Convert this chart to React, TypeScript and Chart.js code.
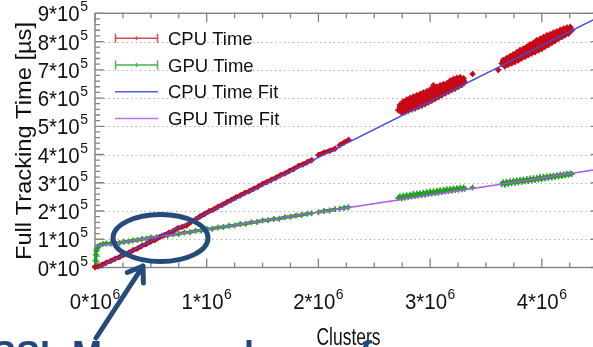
import React, { useEffect, useRef } from "react";
import { Chart, registerables } from "chart.js";
Chart.register(...registerables);

// ---------- data (x: clusters in 10^6, y: full tracking time in 10^5 µs; null = gap) ----------
const cpuX = [
  0.00, 0.03, 0.06, 0.10, 0.14, 0.18, 0.22, 0.26, 0.30, 0.34, 0.38, 0.42, 0.46, 0.50, 0.54, 0.58,
  0.62, 0.66, 0.70, 0.74, 0.78, 0.82, 0.86, 0.90, 0.94, 0.98, 1.02, 1.06, 1.10, 1.14, 1.18, 1.22,
  1.26, 1.30, 1.34, 1.38, 1.42, 1.46, 1.50, 1.54, 1.58, 1.62, 1.66, 1.70, 1.74, 1.78, 1.82, 1.86,
  1.90, 1.94, 1.97, 2.00, 2.05, 2.10, 2.15, 2.17, 2.19, 2.23, 2.27, 2.5,
  2.715, 2.73, 2.745, 2.76, 2.775, 2.79, 2.805, 2.82, 2.835, 2.85, 2.865, 2.88, 2.895, 2.91, 2.925,
  2.94, 2.955, 2.97, 2.985, 3.00, 3.015, 3.03, 3.045, 3.06, 3.075, 3.09, 3.105, 3.12, 3.135, 3.15,
  3.165, 3.18, 3.195, 3.21, 3.225, 3.24, 3.255, 3.27, 3.285, 3.30, 3.31, 3.35,
  3.38, 3.5, 3.61, 3.625,
  3.64, 3.655, 3.67, 3.685, 3.70, 3.715, 3.73, 3.745, 3.76, 3.775, 3.79, 3.805, 3.82, 3.835, 3.85,
  3.865, 3.88, 3.895, 3.91, 3.925, 3.94, 3.955, 3.97, 3.985, 4.00, 4.015, 4.03, 4.045, 4.06, 4.075,
  4.09, 4.105, 4.12, 4.135, 4.15, 4.165, 4.18, 4.195, 4.21, 4.225, 4.24, 4.255, 4.27,
];
const cpuY = [
  0.01, 0.04, 0.09, 0.17, 0.23, 0.31, 0.37, 0.46, 0.52, 0.61, 0.67, 0.77, 0.83, 0.92, 0.98, 1.08,
  1.14, 1.23, 1.29, 1.39, 1.44, 1.49, 1.62, 1.70, 1.81, 1.89, 1.99, 2.05, 2.15, 2.22, 2.31, 2.39,
  2.48, 2.55, 2.64, 2.70, 2.79, 2.86, 2.96, 3.03, 3.11, 3.18, 3.27, 3.33, 3.42, 3.49, 3.59, 3.65,
  3.73, 3.80, null, 3.98, 4.07, 4.13, 4.21, null, 4.33, 4.43, 4.52, null,
  5.57, 5.76, 5.48, 5.88, 5.50, 5.95, 5.55, 6.00, 5.59, 6.05, 5.63, 6.10, 5.68, 6.14, 5.73,
  6.20, 5.78, 6.24, 5.84, 6.30, 5.90, 6.45, 5.97, 6.40, 6.03, 6.45, 6.10, 6.50, 6.16, 6.52,
  6.22, 6.62, 6.28, 6.68, 6.33, 6.72, 6.40, 6.74, 6.46, 6.70, 6.56, null,
  6.85, null, 6.99, null,
  7.22, 7.35, 7.12, 7.42, 7.18, 7.48, 7.22, 7.55, 7.28, 7.62, 7.33, 7.70, 7.40, 7.75, 7.46,
  7.82, 7.52, 7.90, 7.58, 7.96, 7.62, 8.05, 7.68, 8.10, 7.74, 8.16, 7.82, 8.22, 7.88, 8.26,
  7.95, 8.32, 8.02, 8.36, 8.10, 8.42, 8.16, 8.46, 8.22, 8.50, 8.28, 8.52, 8.40,
];

const gpuX = [
  0.000, 0.004, 0.008, 0.012, 0.018, 0.028, 0.045, 0.07, 0.10, 0.14, 0.18, 0.22, 0.26, 0.30, 0.34,
  0.38, 0.42, 0.46, 0.50, 0.55, 0.60, 0.65, 0.70, 0.75, 0.80, 0.85, 0.90, 0.95, 1.00, 1.05, 1.10,
  1.15, 1.20, 1.25, 1.30, 1.35, 1.40, 1.45, 1.50, 1.55, 1.60, 1.65, 1.70, 1.75, 1.80, 1.85, 1.90,
  1.94, 1.97, 2.00, 2.05, 2.10, 2.15, 2.17, 2.19, 2.23, 2.27, 2.5,
  2.715, 2.73, 2.745, 2.76, 2.775, 2.79, 2.805, 2.82, 2.835, 2.85, 2.865, 2.88, 2.895, 2.91, 2.925,
  2.94, 2.955, 2.97, 2.985, 3.00, 3.015, 3.03, 3.045, 3.06, 3.075, 3.09, 3.105, 3.12, 3.135, 3.15,
  3.165, 3.18, 3.195, 3.21, 3.225, 3.24, 3.255, 3.27, 3.285, 3.30, 3.31, 3.35,
  3.38, 3.5,
  3.64, 3.655, 3.67, 3.685, 3.70, 3.715, 3.73, 3.745, 3.76, 3.775, 3.79, 3.805, 3.82, 3.835, 3.85,
  3.865, 3.88, 3.895, 3.91, 3.925, 3.94, 3.955, 3.97, 3.985, 4.00, 4.015, 4.03, 4.045, 4.06, 4.075,
  4.09, 4.105, 4.12, 4.135, 4.15, 4.165, 4.18, 4.195, 4.21, 4.225, 4.24, 4.255, 4.27,
];
const gpuY = [
  0.05, 0.25, 0.45, 0.60, 0.68, 0.74, 0.79, 0.83, 0.85, 0.84, 0.88, 0.87, 0.91, 0.92, 0.96,
  0.97, 1.01, 1.02, 1.06, 1.07, 1.12, 1.13, 1.18, 1.19, 1.24, 1.25, 1.30, 1.31, 1.36, 1.37, 1.42,
  1.43, 1.48, 1.49, 1.54, 1.55, 1.60, 1.61, 1.66, 1.67, 1.72, 1.73, 1.78, 1.80, 1.84, 1.86, 1.90,
  1.92, null, 1.96, 2.00, 2.02, 2.06, null, 2.08, 2.11, 2.13, null,
  2.46, 2.52, 2.44, 2.54, 2.47, 2.56, 2.49, 2.58, 2.51, 2.60, 2.53, 2.62, 2.55, 2.63, 2.57,
  2.65, 2.58, 2.67, 2.60, 2.69, 2.62, 2.70, 2.64, 2.72, 2.65, 2.74, 2.67, 2.75, 2.69, 2.77,
  2.71, 2.78, 2.72, 2.80, 2.74, 2.81, 2.75, 2.82, 2.77, 2.83, 2.79, null,
  2.83, null,
  2.95, 3.02, 2.93, 3.04, 2.96, 3.05, 2.98, 3.07, 2.99, 3.09, 3.01, 3.10, 3.03, 3.12, 3.05,
  3.13, 3.06, 3.15, 3.08, 3.16, 3.10, 3.18, 3.11, 3.20, 3.13, 3.21, 3.15, 3.23, 3.17, 3.24,
  3.19, 3.26, 3.20, 3.27, 3.22, 3.29, 3.24, 3.30, 3.26, 3.32, 3.28, 3.33, 3.31,
];

const cpuFitX = [0, 4.521];
const cpuFitY = [-0.06, 8.89];
const gpuFitX = [0, 4.521];
const gpuFitY = [0.742, 3.49];

const seriesLabels = ["CPU Time", "GPU Time", "CPU Time Fit", "GPU Time Fit"];
const xTicks = [0, 1, 2, 3, 4];
const xTickLabels = ["0*10^6", "1*10^6", "2*10^6", "3*10^6", "4*10^6"];
const yTicks = [0, 1, 2, 3, 4, 5, 6, 7, 8, 9];
const yTickLabels = ["0*10^5", "1*10^5", "2*10^5", "3*10^5", "4*10^5", "5*10^5", "6*10^5", "7*10^5", "8*10^5", "9*10^5"];
const xMinorStep = 0.25;
const yMinorStep = 0.2;
const xTitle = "Clusters";
const yTitle = "Full Tracking Time [µs]";
const noteText = "SSL More overlap on few cores";

// ---------- styling ----------
const W = 593;
const H = 347;
const CW = 610;
const FAMILY = '"Liberation Sans", Arial, Helvetica, sans-serif';
const CPU_COLOR = "rgb(200,8,22)";
const GPU_COLOR = "rgb(36,160,36)";
const CPU_FIT_COLOR = "rgb(62,78,222)";
const GPU_FIT_COLOR = "rgb(172,88,232)";
const legendColors = ["rgb(222,70,82)", "rgb(70,180,70)", "rgb(80,95,228)", "rgb(186,110,232)"];
const NAVY = "rgb(36,75,124)";

function txt(ctx: CanvasRenderingContext2D, s: string, x: number, y: number, font: string, align: string, sx = 1, color = "#111") {
  ctx.save();
  ctx.font = font;
  ctx.fillStyle = color;
  ctx.textBaseline = "alphabetic";
  const w = ctx.measureText(s).width * sx;
  const left = align === "center" ? x - w / 2 : align === "right" ? x - w : x;
  ctx.translate(left, y);
  ctx.scale(sx, 1);
  ctx.fillText(s, 0, 0);
  ctx.restore();
  return w;
}

function supLabel(ctx: CanvasRenderingContext2D, label: string, ax: number, baseline: number, align: string) {
  const [base, sup] = label.split("^");
  const sx = 0.93;
  const bf = `22px ${FAMILY}`;
  const sf = `15px ${FAMILY}`;
  ctx.font = bf;
  const wb = ctx.measureText(base).width * sx;
  ctx.font = sf;
  const ws = ctx.measureText(sup).width * sx;
  const total = wb + ws + 0.5;
  const left = align === "center" ? ax - total / 2 : ax - total;
  txt(ctx, base, left, baseline, bf, "left", sx);
  txt(ctx, sup, left + wb + 0.5, baseline - 10, sf, "left", sx);
}

const gnuplotPlugin = {
  id: "gnuplotFrame",
  beforeDatasetsDraw(chart: any) {
    const { ctx, chartArea: a, scales } = chart;
    const x = scales.x;
    const y = scales.y;
    ctx.save();
    ctx.strokeStyle = "rgba(150,150,150,0.85)";
    ctx.lineWidth = 1;
    ctx.setLineDash([1.3, 3.2]);
    for (const v of yTicks) {
      if (v <= y.min || v >= y.max) continue;
      const py = Math.round(y.getPixelForValue(v)) + 0.5;
      ctx.beginPath();
      ctx.moveTo(a.left, py);
      ctx.lineTo(a.right, py);
      ctx.stroke();
    }
    ctx.setLineDash([]);
    ctx.strokeStyle = "rgb(130,130,130)";
    ctx.lineWidth = 1.4;
    ctx.strokeRect(a.left, a.top, a.right - a.left, a.bottom - a.top);
    ctx.lineWidth = 1.3;
    for (let v = 0; v <= x.max + 1e-9; v += xMinorStep) {
      const px = x.getPixelForValue(v);
      const major = xTicks.some((t) => Math.abs(t - v) < 1e-6);
      const len = major ? 9 : 5;
      ctx.beginPath();
      ctx.moveTo(px, a.bottom);
      ctx.lineTo(px, a.bottom - len);
      ctx.moveTo(px, a.top);
      ctx.lineTo(px, a.top + len);
      ctx.stroke();
    }
    for (let v = 0; v <= y.max + 1e-9; v += yMinorStep) {
      const py = y.getPixelForValue(v);
      const major = yTicks.some((t) => Math.abs(t - v) < 1e-6);
      const len = major ? 9 : 5;
      ctx.beginPath();
      ctx.moveTo(a.left, py);
      ctx.lineTo(a.left + len, py);
      ctx.moveTo(a.right, py);
      ctx.lineTo(a.right - len, py);
      ctx.stroke();
    }
    ctx.restore();
  },
  afterDraw(chart: any) {
    const { ctx, chartArea: a, scales } = chart;
    const x = scales.x;
    const y = scales.y;
    ctx.save();
    xTicks.forEach((v, i) => supLabel(ctx, xTickLabels[i], x.getPixelForValue(v), 308.5, "center"));
    yTicks.forEach((v, i) => supLabel(ctx, yTickLabels[i], 88, y.getPixelForValue(v) + 8, "right"));
    ctx.font = `23px ${FAMILY}`;
    const cw = ctx.measureText(xTitle).width;
    txt(ctx, xTitle, (a.left + a.right) / 2 + 1, 344.7, `23px ${FAMILY}`, "center", 64 / cw);
    ctx.save();
    ctx.translate(31.4, 141);
    ctx.rotate(-Math.PI / 2);
    ctx.font = `22px ${FAMILY}`;
    const yw = ctx.measureText(yTitle).width;
    txt(ctx, yTitle, 0, 0, `22px ${FAMILY}`, "center", 238 / yw);
    ctx.restore();
    chart.data.datasets.forEach((ds: any, i: number) => {
      const ry = 38.3 + i * 26.7;
      const c = legendColors[i];
      ctx.strokeStyle = c;
      ctx.lineWidth = 1.5;
      ctx.beginPath();
      ctx.moveTo(115, ry);
      ctx.lineTo(158, ry);
      if (ds.errorBars) {
        ctx.moveTo(115.5, ry - 4.5);
        ctx.lineTo(115.5, ry + 4.5);
        ctx.moveTo(157.5, ry - 4.5);
        ctx.lineTo(157.5, ry + 4.5);
        ctx.moveTo(136.5, ry - 2);
        ctx.lineTo(136.5, ry + 2);
      }
      ctx.stroke();
      txt(ctx, ds.label, 168, ry + 6.7, `18.5px ${FAMILY}`, "left", 1, "#111");
    });
    ctx.strokeStyle = NAVY;
    ctx.lineWidth = 5;
    ctx.beginPath();
    ctx.ellipse(160.5, 238, 47.5, 23.5, 0, 0, Math.PI * 2);
    ctx.stroke();
    const tipX = 143, tipY = 266, tailX = 96, tailY = 338;
    ctx.lineCap = "round";
    ctx.lineJoin = "round";
    ctx.beginPath();
    ctx.moveTo(tailX, tailY);
    ctx.lineTo(tipX, tipY);
    const ang = Math.atan2(tipY - tailY, tipX - tailX);
    const L = 17;
    ctx.moveTo(tipX - L * Math.cos(ang - 0.6), tipY - L * Math.sin(ang - 0.6));
    ctx.lineTo(tipX, tipY);
    ctx.lineTo(tipX - L * Math.cos(ang + 0.6), tipY - L * Math.sin(ang + 0.6));
    ctx.stroke();
    txt(ctx, noteText, -8, 367, `bold 36px ${FAMILY}`, "left", 1, "rgb(31,73,125)");
    ctx.restore();
  },
};

function pts(xs: number[], ys: (number | null)[]) {
  return xs.map((x, i) => ({ x, y: ys[i] }));
}

export default function App() {
  const ref = useRef<HTMLCanvasElement>(null);
  useEffect(() => {
    document.body.style.margin = "0";
    const canvas = ref.current!;
    const common = { showLine: true, spanGaps: false, tension: 0, borderJoinStyle: "round", borderCapStyle: "round" };
    const chart = new Chart(canvas, {
      type: "scatter",
      data: {
        datasets: [
          {
            ...common,
            label: seriesLabels[0],
            errorBars: true,
            data: pts(cpuX, cpuY),
            borderColor: CPU_COLOR,
            backgroundColor: CPU_COLOR,
            borderWidth: 4.5,
            pointStyle: "cross",
            pointRadius: 3,
            pointBorderWidth: 1.5,
            pointBorderColor: CPU_COLOR,
            clip: false,
            order: 2,
          } as any,
          {
            ...common,
            label: seriesLabels[1],
            errorBars: true,
            data: pts(gpuX, gpuY),
            borderColor: GPU_COLOR,
            backgroundColor: GPU_COLOR,
            borderWidth: 3.5,
            pointStyle: "cross",
            pointRadius: 3,
            pointBorderWidth: 1.5,
            pointBorderColor: GPU_COLOR,
            clip: false,
            order: 3,
          } as any,
          {
            ...common,
            label: seriesLabels[2],
            data: pts(cpuFitX, cpuFitY),
            borderColor: CPU_FIT_COLOR,
            borderWidth: 1.4,
            pointRadius: 0,
            order: 0,
          } as any,
          {
            ...common,
            label: seriesLabels[3],
            data: pts(gpuFitX, gpuFitY),
            borderColor: GPU_FIT_COLOR,
            borderWidth: 1.4,
            pointRadius: 0,
            order: 1,
          } as any,
        ],
      },
      options: {
        animation: false,
        responsive: false,
        devicePixelRatio: 1,
        events: [],
        layout: { padding: { left: 95, right: CW - 600, top: 13.3, bottom: H - 267.5 } },
        scales: {
          x: { type: "linear", min: 0, max: 4.521, display: false },
          y: { type: "linear", min: 0, max: 9, display: false },
        },
        plugins: { legend: { display: false }, tooltip: { enabled: false } },
      },
      plugins: [gnuplotPlugin as any],
    });
    return () => chart.destroy();
  }, []);
  return (
    <div style={{ position: "fixed", left: 0, top: 0, width: W, height: H, overflow: "hidden", background: "#fff" }}>
      <canvas ref={ref} width={CW} height={H} style={{ display: "block" }} />
    </div>
  );
}
